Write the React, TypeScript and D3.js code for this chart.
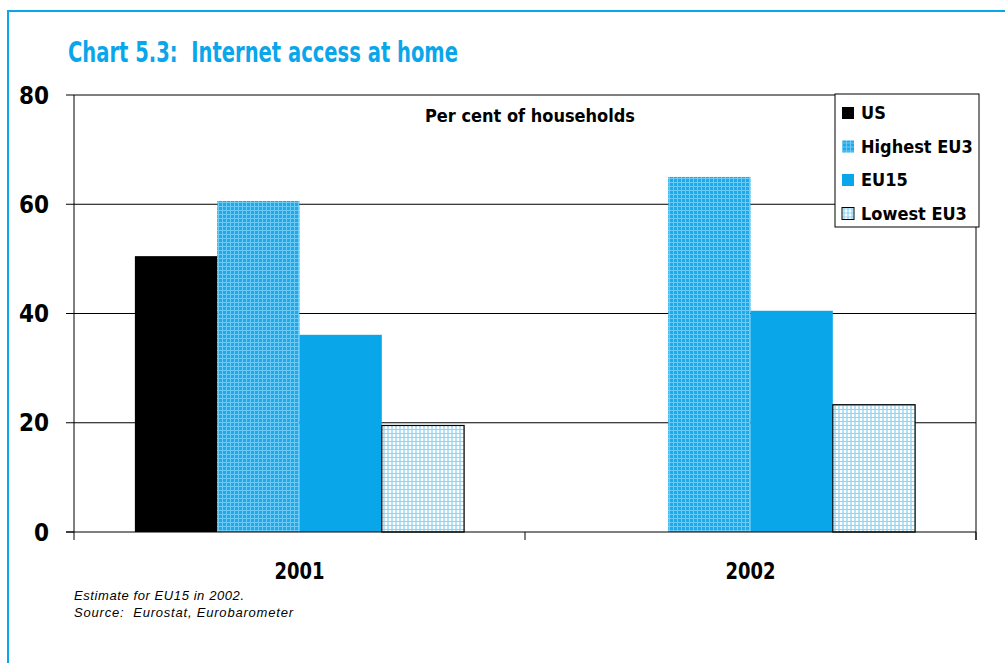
import React from "react";
import * as d3 from "d3";

const categories = ["2001", "2002"];
const seriesNames = ["US", "Highest EU3", "EU15", "Lowest EU3"];
const usValues = [50.5, null];
const highestValues = [60.6, 65];
const eu15Values = [36.1, 40.5];
const lowestValues = [19.5, 23.3];
const yTicks = [0, 20, 40, 60, 80];

const seriesValues: (number | null)[][] = [usValues, highestValues, eu15Values, lowestValues];

const TITLE = "Chart 5.3:\u00a0\u00a0Internet access at home";
const NOTE1 = "Estimate for EU15 in 2002.";
const NOTE2 = "Source:\u00a0\u00a0Eurostat, Eurobarometer";

const W = 1005, H = 663;
const M = { left: 74, right: 976, top: 95, bottom: 532 };
const FONT = "'Liberation Sans Narrow', 'DejaVu Sans Condensed', 'Arial Narrow', sans-serif";
const BLUE = "#0aa6ea";

export default function App() {
  const x0 = d3.scaleBand<string>().domain(categories).range([M.left, M.right]).padding(0);
  const bw = x0.bandwidth();
  const x1 = d3.scaleBand<string>().domain(seriesNames).range([bw * 0.135, bw * 0.865]).padding(0);
  const y = d3.scaleLinear().domain([0, 80]).range([M.bottom, M.top]);

  const fills = ["#000000", "url(#patHigh)", BLUE, "url(#patLow)"];
  const strokes = ["none", "none", "none", "#000"];

  return (
    <svg width={W} height={H} style={{ position: "absolute", left: 0, top: 0, background: "#fff" }} fontFamily={FONT}>
      <defs>
        <pattern id="patHigh" width="4" height="4" patternUnits="userSpaceOnUse">
          <rect width="4" height="4" fill="#1daaea" />
          <rect x="0" y="0" width="1" height="4" fill="#6ccaf4" />
          <rect x="0" y="2" width="4" height="1" fill="#6ccaf4" />
        </pattern>
        <pattern id="patLow" width="4" height="4" patternUnits="userSpaceOnUse">
          <rect width="4" height="4" fill="#ffffff" />
          <rect x="1" y="0" width="2" height="4" fill="#b3e3f8" />
          <rect x="0" y="1" width="4" height="1" fill="#8fd4f4" />
        </pattern>
      </defs>
      <rect x={8} y={11} width={W} height={H} fill="#fff" stroke={BLUE} strokeWidth={2} />
      <text x={68} y={62} fill={BLUE} fontSize={28} fontWeight="bold" textLength={390} lengthAdjust="spacingAndGlyphs">
        {TITLE}
      </text>

      {/* gridlines */}
      {yTicks.filter((t) => t > 0).map((t) => (
        <line key={"g" + t} x1={M.left} x2={M.right} y1={y(t)} y2={y(t)} stroke="#000" strokeWidth={1} />
      ))}
      {/* y tick marks and labels */}
      {yTicks.map((t) => (
        <g key={"t" + t}>
          <line x1={M.left - 8} x2={M.left} y1={y(t)} y2={y(t)} stroke="#000" strokeWidth={1} />
          <text x={49} y={y(t)} dy="0.36em" textAnchor="end" fontSize={24} fontWeight="bold">{t}</text>
        </g>
      ))}

      {/* bars */}
      {categories.map((c, ci) => (
        <g key={c} transform={`translate(${x0(c)},0)`}>
          {seriesNames.map((s, si) => {
            const v = seriesValues[si][ci];
            if (v == null) return null;
            return (
              <rect key={s} x={x1(s)} y={y(v)} width={x1.bandwidth()} height={y(0) - y(v)}
                fill={fills[si]} stroke={strokes[si]} strokeWidth={1.2} />
            );
          })}
        </g>
      ))}

      {/* axes */}
      <line x1={M.left} x2={M.left} y1={M.top} y2={M.bottom + 8} stroke="#000" strokeWidth={1} />
      <line x1={M.right} x2={M.right} y1={M.top} y2={M.bottom + 8} stroke="#000" strokeWidth={1} />
      <line x1={M.left - 8} x2={M.right} y1={y(0)} y2={y(0)} stroke="#000" strokeWidth={1.2} />
      {categories.map((c) => (
        <line key={"xt" + c} x1={(x0(c) as number) + bw} x2={(x0(c) as number) + bw} y1={M.bottom} y2={M.bottom + 8} stroke="#000" />
      ))}
      {categories.map((c) => (
        <text key={"xl" + c} x={(x0(c) as number) + bw / 2} y={579} textAnchor="middle" fontSize={23} fontWeight="bold" textLength={50} lengthAdjust="spacingAndGlyphs">{c}</text>
      ))}

      <text x={530} y={122} textAnchor="middle" fontSize={18} fontWeight="bold">Per cent of households</text>

      {/* legend */}
      <rect x={835} y={94} width={144} height={133} fill="#fff" stroke="#000" strokeWidth={1} />
      {seriesNames.map((s, i) => (
        <g key={"lg" + s} transform={`translate(842, ${107 + i * 33.5})`}>
          <rect x={0} y={0} width={12} height={12} fill={fills[i]} stroke={i === 3 ? "#000" : "none"} strokeWidth={1} />
          <text x={19} y={6} dy="0.36em" fontSize={18} fontWeight="bold">{s}</text>
        </g>
      ))}

      <text x={74} y={600} fontSize={13} fontStyle="italic" fontFamily="'Liberation Sans', Arial, sans-serif" textLength={170} lengthAdjust="spacing">{NOTE1}</text>
      <text x={74} y={617} fontSize={13} fontStyle="italic" fontFamily="'Liberation Sans', Arial, sans-serif" textLength={219} lengthAdjust="spacing">{NOTE2}</text>
    </svg>
  );
}
